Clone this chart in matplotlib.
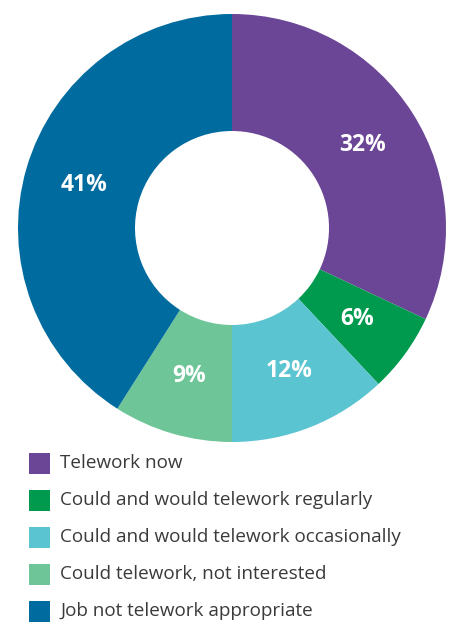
import matplotlib.pyplot as plt
from matplotlib.patches import Rectangle

categories = ['Telework now',
              'Could and would telework regularly',
              'Could and would telework occasionally',
              'Could telework, not interested',
              'Job not telework appropriate']
shares = [32, 6, 12, 9, 41]
colours = ['#6b4596', '#009a4e', '#5bc4d1', '#6dc598', '#006b9f']

W, H = 453, 622
fig = plt.figure(figsize=(W / 100, H / 100), dpi=100)

# donut: centre (232, 228) px, outer radius 214 px, hole radius 97 px
cx, cy, r = 232, 228, 214
ax = fig.add_axes([(cx - r) / W, (H - cy - r) / H, 2 * r / W, 2 * r / H])
wedges, _, autotexts = ax.pie(shares, colors=colours, startangle=90, counterclock=False,
                              radius=1.0, wedgeprops=dict(width=1 - 97 / 214, linewidth=0),
                              autopct='%d%%', pctdistance=0.72,
                              textprops=dict(color='white', fontsize=16.5, fontweight='bold',
                                             family='Open Sans'))
ax.set_xlim(-1, 1)
ax.set_ylim(-1, 1)
ax.set_aspect('equal')
ax.axis('off')

# legend rows
row0, step = 463, 37
for i, (lab, col) in enumerate(zip(categories, colours)):
    yc = row0 + i * step
    fig.patches.append(Rectangle((29 / W, (H - yc - 10.5) / H), 21 / W, 21 / H,
                                 transform=fig.transFigure, facecolor=col, edgecolor='none'))
    fig.text(60 / W, (H - yc) / H, lab, ha='left', va='center', fontsize=13.6,
             color='#3a3a3a', family='Open Sans')

fig.savefig('out.png', dpi=100)
